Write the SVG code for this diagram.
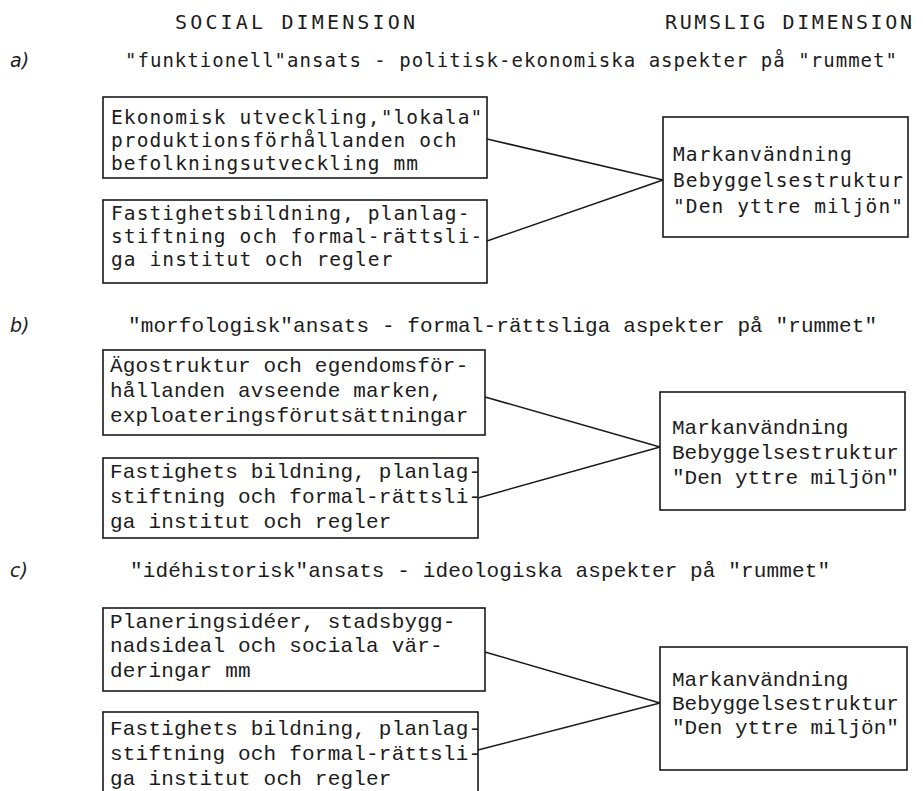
<svg xmlns="http://www.w3.org/2000/svg" width="923" height="791" viewBox="0 0 923 791">
<style>
.bg{fill:#ffffff}
.hd{font-family:"DejaVu Sans Mono",monospace;font-size:20px;fill:#1c1c1c}
.lb{font-family:"DejaVu Sans","Liberation Sans",sans-serif;font-style:italic;font-size:19px;fill:#1c1c1c}
.qa{font-family:"DejaVu Sans Mono",monospace;font-size:19px;fill:#1c1c1c}
.qb{font-family:"Liberation Mono",monospace;font-size:21px;fill:#1c1c1c}
.ta{font-family:"DejaVu Sans Mono",monospace;font-size:19.5px;letter-spacing:1.1px;fill:#1c1c1c}
.tr{font-family:"DejaVu Sans Mono",monospace;font-size:19.5px;letter-spacing:1.1px;fill:#1c1c1c}
.tb{font-family:"Liberation Mono",monospace;font-size:21px;letter-spacing:0.2px;fill:#1c1c1c}
.tbr{font-family:"Liberation Mono",monospace;font-size:21px;letter-spacing:0px;fill:#1c1c1c}
.box{fill:none;stroke:#1a1a1a;stroke-width:1.6}
.con{fill:none;stroke:#1a1a1a;stroke-width:1.5}
</style>
<rect class="bg" x="0" y="0" width="923" height="791"/>

<g id="headers">
<text class="hd" x="175" y="29" textLength="240" lengthAdjust="spacing">SOCIAL DIMENSION</text>
<text class="hd" x="665" y="29" textLength="247" lengthAdjust="spacing">RUMSLIG DIMENSION</text>
</g>

<g id="section-a-title">
<text class="lb" x="10" y="67">a)</text>
<text class="qa" x="125" y="67" textLength="772" lengthAdjust="spacing">"funktionell"ansats - politisk-ekonomiska aspekter på "rummet"</text>
</g>

<g id="a1">
<rect class="box" x="103" y="97" width="384" height="81"/>
<text class="ta" x="111" y="124">Ekonomisk utveckling,"lokala"</text>
<text class="ta" x="111" y="147">produktionsförhållanden och</text>
<text class="ta" x="111" y="170">befolkningsutveckling mm</text>
</g>

<g id="a2">
<rect class="box" x="103" y="200" width="384" height="83"/>
<text class="ta" x="111" y="220">Fastighetsbildning, planlag-</text>
<text class="ta" x="111" y="243">stiftning och formal-rättsli-</text>
<text class="ta" x="111" y="266">ga institut och regler</text>
</g>

<g id="a3">
<rect class="box" x="663" y="117" width="245" height="120"/>
<text class="tr" x="673" y="161">Markanvändning</text>
<text class="tr" x="673" y="187">Bebyggelsestruktur</text>
<text class="tr" x="673" y="213">"Den yttre miljön"</text>
</g>

<g id="section-b-title">
<text class="lb" x="10" y="332">b)</text>
<text class="qb" x="128" y="332" textLength="749" lengthAdjust="spacing">"morfologisk"ansats -  formal-rättsliga aspekter på "rummet"</text>
</g>

<g id="b1">
<rect class="box" x="103" y="350" width="382" height="85"/>
<text class="tb" x="110" y="372">Ägostruktur och egendomsför-</text>
<text class="tb" x="110" y="397">hållanden  avseende marken,</text>
<text class="tb" x="110" y="422">exploateringsförutsättningar</text>
</g>

<g id="b2">
<rect class="box" x="103" y="458" width="375" height="80"/>
<text class="tb" x="110" y="478">Fastighets bildning, planlag-</text>
<text class="tb" x="110" y="503">stiftning och formal-rättsli-</text>
<text class="tb" x="110" y="528">ga institut och regler</text>
</g>

<g id="b3">
<rect class="box" x="660" y="392" width="245" height="118"/>
<text class="tbr" x="672" y="434">Markanvändning</text>
<text class="tbr" x="672" y="459">Bebyggelsestruktur</text>
<text class="tbr" x="672" y="484">"Den yttre miljön"</text>
</g>

<g id="section-c-title">
<text class="lb" x="10" y="577">c)</text>
<text class="qb" x="130" y="577" textLength="700" lengthAdjust="spacing">"idéhistorisk"ansats -  ideologiska aspekter på "rummet"</text>
</g>

<g id="c1">
<rect class="box" x="103" y="608" width="382" height="83"/>
<text class="tb" x="110" y="628">Planeringsidéer, stadsbygg-</text>
<text class="tb" x="110" y="652">nadsideal och sociala vär-</text>
<text class="tb" x="110" y="677">deringar  mm</text>
</g>

<g id="c2">
<rect class="box" x="103" y="712" width="375" height="90"/>
<text class="tb" x="110" y="735">Fastighets bildning, planlag-</text>
<text class="tb" x="110" y="760">stiftning och formal-rättsli-</text>
<text class="tb" x="110" y="785">ga institut och regler</text>
</g>

<g id="c3">
<rect class="box" x="660" y="647" width="247" height="123"/>
<text class="tbr" x="672" y="686">Markanvändning</text>
<text class="tbr" x="672" y="710">Bebyggelsestruktur</text>
<text class="tbr" x="672" y="734">"Den yttre miljön"</text>
</g>

<g id="connectors">
<line class="con" x1="487" y1="139" x2="663" y2="180"/>
<line class="con" x1="487" y1="241" x2="663" y2="180"/>
<line class="con" x1="485" y1="397" x2="660" y2="447"/>
<line class="con" x1="478" y1="498" x2="660" y2="447"/>
<line class="con" x1="485" y1="652" x2="660" y2="703"/>
<line class="con" x1="478" y1="750" x2="660" y2="703"/>
</g>
</svg>
